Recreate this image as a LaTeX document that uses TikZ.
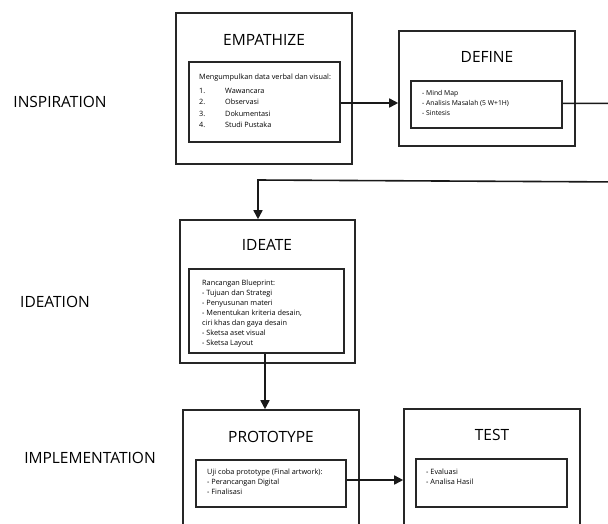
\documentclass[tikz,border=0pt]{standalone}
\usepackage{fontspec}
\setmainfont{Open Sans}
\usetikzlibrary{arrows.meta, positioning}

\tikzset{
  stagebox/.style={draw=black!85, line width=1.6pt, inner sep=0pt},
  listbox/.style={draw=black!85, line width=1.6pt, inner sep=0pt},
  stagetitle/.style={inner sep=0pt, font=\fontsize{15.5}{18}\selectfont},
  phaselabel/.style={inner sep=0pt, font=\fontsize{15.5}{18}\selectfont},
  listtext/.style={inner sep=0pt, anchor=north west, align=left, font=\fontsize{7.3}{10}\selectfont},
  flow/.style={line width=1.6pt, draw=black!90, -{Triangle[length=9pt,width=9pt]}}
}

\begin{document}
\begin{tikzpicture}[x=1pt, y=-1pt]
\clip (0,0) rectangle (608,523);
\fill[white] (0,0) rectangle (608,523);

\node[phaselabel] (inspiration) at (60,102) {INSPIRATION};
\node[phaselabel] (ideation) at (55,302) {IDEATION};
\node[phaselabel] (implementation) at (90,458) {IMPLEMENTATION};

\node[stagebox, minimum width=176pt, minimum height=151pt] (emp) at (264,88.5) {};
\node[stagetitle] (empT) at (264,40) {EMPATHIZE};
\node[listbox, minimum width=151pt, minimum height=80pt] (empIn) at (264.5,102) {};
\node[listtext] (empHead) at (199,74) {Mengumpulkan data verbal dan visual:};
\node[listtext, font=\fontsize{7.3}{11.5}\selectfont] (empList) at (199,85) {%
  \begin{tabular}{@{}p{26pt}@{}l@{}}
  1. & Wawancara\\
  2. & Observasi\\
  3. & Dokumentasi\\
  4. & Studi Pustaka
  \end{tabular}};

\node[stagebox, minimum width=176pt, minimum height=115pt] (def) at (487,88.5) {};
\node[stagetitle] (defT) at (487,57) {DEFINE};
\node[listbox, minimum width=151pt, minimum height=47pt] (defIn) at (486.5,104.5) {};
\node[listtext, font=\fontsize{6.8}{10}\selectfont] (defList) at (422,90) {- Mind Map\\- Analisis Masalah (5 W+1H)\\- Sintesis};

\node[stagebox, minimum width=175pt, minimum height=143pt] (ide) at (267.5,291.5) {};
\node[stagetitle] (ideT) at (267,245) {IDEATE};
\node[listbox, minimum width=155pt, minimum height=84pt] (ideIn) at (266.5,311) {};
\node[listtext] (ideList) at (202,279.5) {Rancangan Blueprint:\\- Tujuan dan Strategi\\- Penyusunan materi\\- Menentukan kriteria desain,\\ciri khas dan gaya desain\\- Sketsa aset visual\\- Sketsa Layout};

\node[stagebox, minimum width=176pt, minimum height=124pt] (pro) at (271,472) {};
\node[stagetitle] (proT) at (271,437) {PROTOTYPE};
\node[listbox, minimum width=150pt, minimum height=47pt] (proIn) at (271,483.5) {};
\node[listtext] (proList) at (207,469) {Uji coba prototype (Final artwork):\\- Perancangan Digital\\- Finalisasi};

\node[stagebox, minimum width=176pt, minimum height=124pt] (tst) at (492,471) {};
\node[stagetitle] (tstT) at (492,435) {TEST};
\node[listbox, minimum width=151pt, minimum height=48pt] (tstIn) at (491.5,483) {};
\node[listtext] (tstList) at (426,469) {- Evaluasi\\- Analisa Hasil};

\coordinate (outR) at (625,103.3);
\coordinate (backR) at (625,182);
\coordinate (backL) at (258,180);

\draw[flow] (empIn.east |- 0,103) -- (def.west |- 0,103);
\draw[flow] (defIn.east |- 0,103.3) -- (outR) -- (backR) -- (backL) -- (backL |- ide.north);
\draw[flow] (ideIn.south -| 265,0) -- (pro.north -| 265,0);
\draw[flow] (proIn.east |- 0,480) -- (tst.west |- 0,480);
\end{tikzpicture}
\end{document}
